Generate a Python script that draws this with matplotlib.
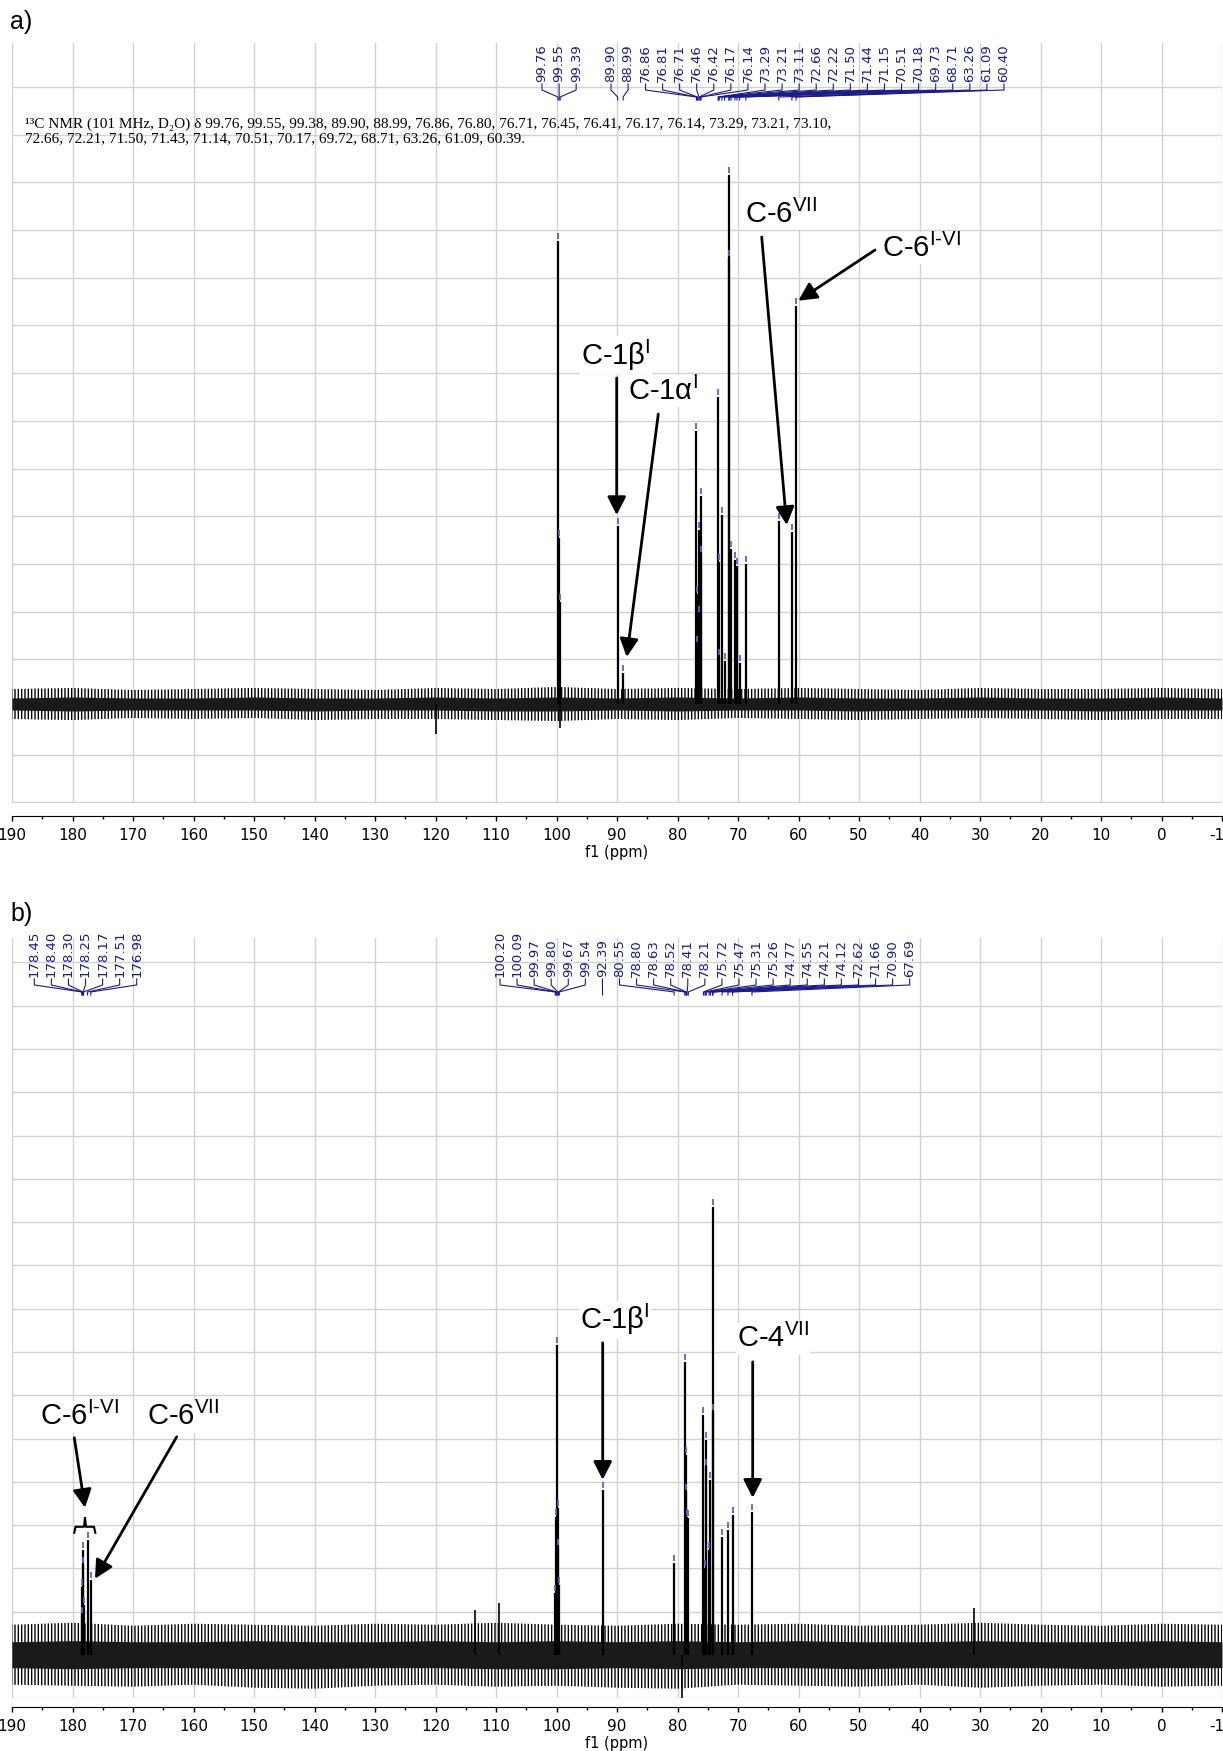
import numpy as np
import matplotlib.pyplot as plt

plt.rcParams['font.family'] = ['DejaVu Sans']
plt.rcParams['mathtext.fontset'] = 'custom'
plt.rcParams['mathtext.rm'] = 'Liberation Sans'
plt.rcParams['axes.unicode_minus'] = False
plt.rcParams['hatch.linewidth'] = 1.0
plt.rcParams['hatch.color'] = 'black'

# ---------------- data ----------------
# a) 13C spectrum: picked peaks (ppm) and peak heights (baseline = 0)
a_ppm = [99.76, 99.55, 99.39, 89.90, 88.99, 76.86, 76.81, 76.71, 76.46, 76.42, 76.17, 76.14,
         73.29, 73.21, 73.11, 72.66, 72.22, 71.50, 71.44, 71.15, 70.51, 70.18, 69.73, 68.71,
         63.26, 61.09, 60.40]
a_height = [463, 166, 102, 178, 31, 273, 110, 60, 174, 90, 208, 150,
            307, 142, 47, 189, 43, 529, 446, 155, 144, 138, 41, 140,
            183, 172, 398]
a_spike_ppm = [120.0, 99.5]
a_spike_h = [-30, -24]

# b) 13C spectrum
b_ppm = [178.45, 178.40, 178.30, 178.25, 178.17, 177.51, 176.98,
         100.20, 100.09, 99.97, 99.80, 99.67, 99.54, 92.39,
         80.55, 78.80, 78.63, 78.52, 78.41, 78.21, 75.72, 75.47, 75.31, 75.26, 74.77,
         74.55, 74.21, 74.12, 72.62, 71.66, 70.90, 67.69]
b_height = [40, 68, 105, 90, 50, 115, 75,
            62, 138, 310, 147, 108, 70, 165,
            92, 293, 200, 163, 138, 137, 240, 87, 215, 188, 105,
            175, 448, 243, 118, 125, 140, 143]
b_spike_ppm = [113.5, 109.5, 31.0, 79.2]
b_spike_h = [45, 52, 47, -45]

# baseline noise envelope (every 10 ppm, 190 -> -10)
noise_ppm = [190, 180, 170, 160, 150, 140, 130, 120, 110, 100, 90, 80, 70, 60, 50, 40, 30, 20, 10, 0, -10]
a_noise_hi = [15, 16, 14, 15, 16, 15, 14, 16, 15, 17, 15, 16, 15, 16, 15, 14, 16, 15, 15, 16, 15]
a_noise_lo = [-15, -16, -14, -15, -14, -16, -15, -15, -16, -17, -15, -16, -14, -15, -16, -15, -14, -15, -16, -15, -15]
a_core_hi = [6, 7, 6, 6, 7, 6, 6, 7, 6, 7, 6, 7, 6, 7, 6, 6, 7, 6, 6, 7, 6]
a_core_lo = [-6, -7, -6, -6, -6, -7, -6, -6, -7, -7, -6, -7, -6, -6, -7, -6, -6, -6, -7, -6, -6]
b_noise_hi = [30, 32, 29, 31, 30, 29, 31, 30, 32, 30, 29, 31, 30, 31, 29, 30, 32, 30, 29, 31, 30]
b_noise_lo = [-30, -31, -32, -30, -33, -34, -31, -30, -32, -31, -33, -34, -30, -31, -32, -30, -33, -31, -30, -32, -31]
b_core_hi = [13, 14, 13, 13, 14, 13, 13, 14, 13, 14, 13, 14, 13, 14, 13, 13, 14, 13, 13, 14, 13]
b_core_lo = [-13, -14, -13, -13, -14, -14, -13, -13, -14, -14, -13, -14, -13, -13, -14, -13, -13, -13, -14, -13, -13]

a_summary = ["\u00b9\u00b3C NMR (101 MHz, D\u2082O) \u03b4 99.76, 99.55, 99.38, 89.90, 88.99, 76.86, 76.80, 76.71, "
             "76.45, 76.41, 76.17, 76.14, 73.29, 73.21, 73.10,",
             "72.66, 72.21, 71.50, 71.43, 71.14, 70.51, 70.17, 69.72, 68.71, 63.26, 61.09, 60.39."]

# ---------------- layout (pixels of the 1223x1751 picture) ----------------
W, H = 1223, 1751
X0, X1 = 12, 1222
PPM_L, PPM_R = 190, -10
NAVY = '#1a1a8a'
LABEL_STEP = 17.07


def px2ppm(x):
    return PPM_L - (x - X0) * (PPM_L - PPM_R) / (X1 - X0)


def ppm2px(p):
    return X0 + (PPM_L - p) * (X1 - X0) / (PPM_L - PPM_R)


fig = plt.figure(figsize=(W / 100, H / 100), dpi=100)


def panel(top, bottom, base, grid0, step, axis_off, ppm, height, spk_ppm, spk_h,
          nhi, nlo, chi, clo, groups, lab_y, texts, arrows):
    ax = fig.add_axes([X0 / W, 1 - bottom / H, (X1 - X0) / W, (bottom - top) / H])
    y = lambda v: base - v
    ax.set_xlim(PPM_L, PPM_R)
    ax.set_ylim(y(bottom), y(top))
    ax.set_yticks([y(g) for g in np.arange(grid0, bottom + 1, step)])
    ax.tick_params(axis='y', left=False, labelleft=False)
    ax.set_xticks(np.arange(190, -11, -10))
    ax.set_xticks(np.arange(185, -10, -10), minor=True)
    ax.tick_params(axis='x', which='major', direction='out', length=3.5, width=1, pad=5, labelsize=11)
    ax.tick_params(axis='x', which='minor', direction='out', length=1.8, width=1)
    ax.grid(True, which='major', color='#d2d2d2', lw=1)
    ax.set_axisbelow(True)
    for s in ['top', 'left', 'right']:
        ax.spines[s].set_visible(False)
    ax.spines['bottom'].set_position(('outward', axis_off))
    ax.set_xlabel('f1 (ppm)', fontsize=10.5, labelpad=1.5)

    # baseline noise
    ax.fill_between(noise_ppm, nlo, nhi, facecolor='none', edgecolor='black', hatch='|||||', lw=0)
    ax.fill_between(noise_ppm, clo, chi, color='#1a1a1a', lw=0)
    ax.vlines(spk_ppm, 0, spk_h, color='black', lw=1.2)
    # peaks + pick marks
    ax.vlines(ppm, 0, height, color='black', lw=1.6)
    ax.plot(ppm, np.array(height) + 5, ls='none', marker='|', ms=4.5, mew=1.3, color='#6060c8')

    # peak labels with leader lines
    for x_start, i0, i1 in groups:
        for j, i in enumerate(range(i0, i1)):
            xl = x_start + j * LABEL_STEP
            xp = ppm2px(ppm[i])
            ax.text(px2ppm(xl), y(lab_y), f'{ppm[i]:.2f}', rotation=90, ha='center', va='bottom',
                    color=NAVY, fontsize=9.5)
            ax.plot([px2ppm(xl), px2ppm(xl), px2ppm(xp), px2ppm(xp)],
                    [y(lab_y + 2), y(lab_y + 8), y(lab_y + 15), y(lab_y + 18)],
                    color=NAVY, lw=0.8, clip_on=False)

    for (tx, ty, s) in texts:
        ax.text(px2ppm(tx), y(ty), s, fontsize=21, family='Liberation Sans', ha='left', va='center',
                bbox=dict(fc='white', ec='none', pad=1))
    for (x0, y0, x1, y1) in arrows:
        ax.annotate('', xy=(px2ppm(x1), y(y1)), xytext=(px2ppm(x0), y(y0)),
                    arrowprops=dict(arrowstyle='-|>,head_length=0.55,head_width=0.28', color='black',
                                    lw=2, mutation_scale=20, shrinkA=0, shrinkB=0))
    return ax, y


# panel a
ax_a, ya = panel(43, 802.5, 704, 87, 47.7, 9.5, a_ppm, a_height, a_spike_ppm, a_spike_h,
                 a_noise_hi, a_noise_lo, a_core_hi, a_core_lo,
                 [(542, 0, 3), (611, 3, 5), (645.5, 5, 27)], 82,
                 [(581, 355, 'C-1\u03b2$^{\\mathrm{I}}$'), (628, 391, 'C-1\u03b1$^{\\mathrm{I}}$'),
                  (745, 214, 'C-6$^{\\mathrm{VII}}$'), (882, 248, 'C-6$^{\\text{I-VI}}$')],
                 [(616.7, 378, 616.7, 515), (658.3, 414, 626.7, 657),
                  (761.7, 237, 786.7, 525), (875, 250, 798.3, 300.7)])

# panel b
ax_b, yb = panel(938, 1698.3, 1655, 962.5, 43.3, 6.5, b_ppm, b_height, b_spike_ppm, b_spike_h,
                 b_noise_hi, b_noise_lo, b_core_hi, b_core_lo,
                 [(34.3, 0, 7), (500, 7, 32)], 977,
                 [(40, 1417, 'C-6$^{\\text{I-VI}}$'), (147, 1417, 'C-6$^{\\mathrm{VII}}$'),
                  (580, 1320, 'C-1\u03b2$^{\\mathrm{I}}$'), (737, 1339, 'C-4$^{\\mathrm{VII}}$')],
                 [(74.3, 1438, 85, 1508), (176.7, 1437, 95, 1579),
                  (602.7, 1343, 602.7, 1480), (752.7, 1362, 752.7, 1498)])

# curly brace over the C-6 (I-VI) signals
bx = [74.3, 75.5, 84, 85, 86, 94, 95.3]
by = [1533, 1527, 1527, 1518, 1527, 1527, 1533]
ax_b.plot([px2ppm(v) for v in bx], [yb(v) for v in by], color='black', lw=1.5)

# summary line of panel a
for k, line in enumerate(a_summary):
    fig.text(25 / W, 1 - (124 + 15 * k) / H, line, family='Liberation Serif', fontsize=11, va='center')

fig.text(10 / W, 1 - 22 / H, 'a)', family='Liberation Sans', fontsize=18, va='center')
fig.text(10 / W, 1 - 914 / H, 'b)', family='Liberation Sans', fontsize=18, va='center')

fig.savefig('out.png', dpi=100)
